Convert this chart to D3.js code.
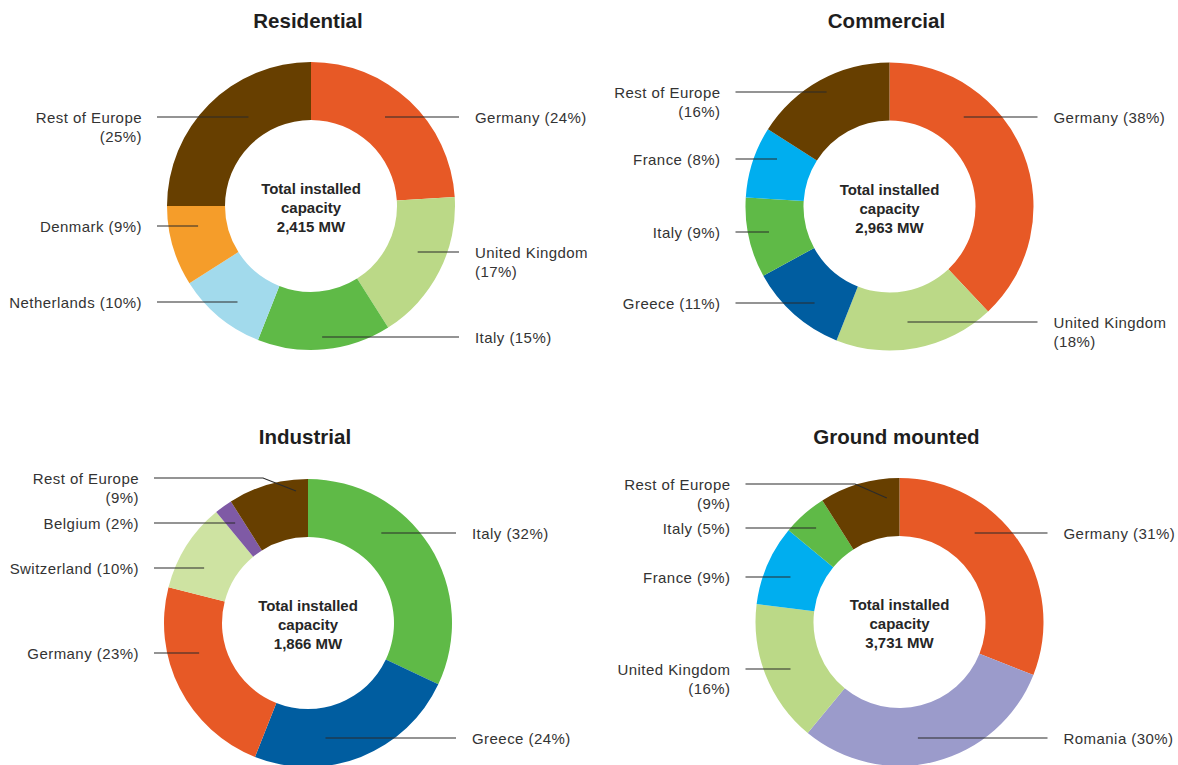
<!DOCTYPE html>
<html>
<head>
<meta charset="utf-8">
<script src="https://cdn.jsdelivr.net/npm/d3@7"></script>
<style>
  html, body { margin: 0; padding: 0; background: #ffffff; }
  svg { display: block; font-family: "Liberation Sans", Arial, Helvetica, sans-serif; }
</style>
</head>
<body>
<svg id="chart" width="1178" height="765"></svg>
<script>
// ---------- DATA ----------
const titles = ["Residential", "Commercial", "Industrial", "Ground mounted"];
const totalsMW = [2415, 2963, 1866, 3731];

const residentialCountries = ["Germany", "United Kingdom", "Italy", "Netherlands", "Denmark", "Rest of Europe"];
const residentialShares = [24, 17, 15, 10, 9, 25];

const commercialCountries = ["Germany", "United Kingdom", "Greece", "Italy", "France", "Rest of Europe"];
const commercialShares = [38, 18, 11, 9, 8, 16];

const industrialCountries = ["Italy", "Greece", "Germany", "Switzerland", "Belgium", "Rest of Europe"];
const industrialShares = [32, 24, 23, 10, 2, 9];

const groundCountries = ["Germany", "Romania", "United Kingdom", "France", "Italy", "Rest of Europe"];
const groundShares = [31, 30, 16, 9, 5, 9];

// ---------- COLOURS ----------
const countryColors = {
  "Germany": "#e75926",
  "United Kingdom": "#bbd987",
  "Italy": "#5fba47",
  "Netherlands": "#a2daec",
  "Denmark": "#f59d2a",
  "Rest of Europe": "#673f00",
  "France": "#00aeef",
  "Greece": "#005da0",
  "Switzerland": "#cee3a2",
  "Belgium": "#7f5aa5",
  "Romania": "#9b9bcb"
};

// ---------- LAYOUT (label placement) ----------
const centers = [[311, 206], [889.5, 206.5], [308, 623], [899.5, 622]];
const titleY = [28, 28, 444, 444];
const labelDy = [
  [-89, 46, 131, 96, 20, -89],
  [-89.5, 115.5, 96.5, 25.5, -47.5, -114.5],
  [-90, 115, 30, -55, -100, -145],
  [-89, 116, 47, -45, -94, -138]
];
const anchorFrac = [
  [0.46, 0.44, 0.51, 0.44, 0.69, 0.61],
  [0.29, 0.53, 0.41, 0.52, 0.67, 0.50],
  [0.34, 0.65, 0.64, 0.375, 0.49, 0.84],
  [0.36, 0.55, 0.47, 0.47, 0.49, 0.82]
];
// bent leader lines: [elbow dx, anchor radius] or null
const elbows = [
  [null, null, null, null, null, null],
  [null, null, null, null, null, null],
  [null, null, null, null, null, [-45, 132.5]],
  [null, null, null, null, null, [-44.5, 124.6]]
];

const outerR = 144, innerR = 86;

const datasets = [
  { countries: residentialCountries, shares: residentialShares },
  { countries: commercialCountries, shares: commercialShares },
  { countries: industrialCountries, shares: industrialShares },
  { countries: groundCountries, shares: groundShares }
];

const svg = d3.select("#chart");
const pie = d3.pie().sort(null).value(d => d.value).startAngle(0).endAngle(2 * Math.PI);
const arc = d3.arc().innerRadius(innerR).outerRadius(outerR);
const fmt = d3.format(",");

datasets.forEach((ds, ci) => {
  const [cx, cy] = centers[ci];
  const g = svg.append("g").attr("transform", `translate(${cx},${cy})`);
  const rows = ds.countries.map((c, i) => ({ name: c, value: ds.shares[i], idx: i }));
  const arcs = pie(rows);

  g.selectAll("path.slice")
    .data(arcs)
    .join("path")
    .attr("class", "slice")
    .attr("d", arc)
    .attr("fill", d => countryColors[d.data.name]);

  // title
  svg.append("text")
    .attr("x", cx - 3)
    .attr("y", titleY[ci])
    .attr("text-anchor", "middle")
    .attr("font-size", 20.5)
    .attr("font-weight", "bold")
    .attr("fill", "#1e1e1e")
    .text(titles[ci]);

  // centre text
  const centre = g.append("text")
    .attr("text-anchor", "middle")
    .attr("font-size", 15)
    .attr("font-weight", "bold")
    .attr("fill", "#262626");
  ["Total installed", "capacity", fmt(totalsMW[ci]) + " MW"].forEach((t, k) => {
    centre.append("tspan").attr("x", 0).attr("y", -12 + k * 19).text(t);
  });

  // leader lines + labels
  arcs.forEach((a, i) => {
    const dy = labelDy[ci][i];
    const f = anchorFrac[ci][i];
    const theta = a.startAngle + f * (a.endAngle - a.startAngle);
    const mid = (a.startAngle + a.endAngle) / 2;
    const right = mid < Math.PI;
    const el = elbows[ci][i];
    let ax, ay;
    if (el) {
      ax = el[1] * Math.sin(theta);
      ay = -el[1] * Math.cos(theta);
    } else {
      const t = -dy / Math.cos(theta);
      ax = t * Math.sin(theta);
      ay = dy;
    }
    const outerX = right ? 148 : -154;
    const pts = [[ax, ay]];
    if (el) pts.push([el[0], dy]);
    pts.push([outerX, dy]);
    g.append("path")
      .attr("d", d3.line()(pts))
      .attr("fill", "none")
      .attr("stroke", "#2b2b2b")
      .attr("stroke-width", 1.2);

    const name = a.data.name;
    const pct = "(" + a.data.value + "%)";
    const lines = name.includes(" ") ? [name, pct] : [name + " " + pct];
    const label = g.append("text")
      .attr("text-anchor", right ? "start" : "end")
      .attr("font-size", 15)
      .attr("letter-spacing", 0.45)
      .attr("fill", "#333333");
    lines.forEach((t, k) => {
      label.append("tspan")
        .attr("x", right ? 164 : -169)
        .attr("y", dy + 5.5 + k * 19)
        .text(t);
    });
  });
});
</script>
</body>
</html>
